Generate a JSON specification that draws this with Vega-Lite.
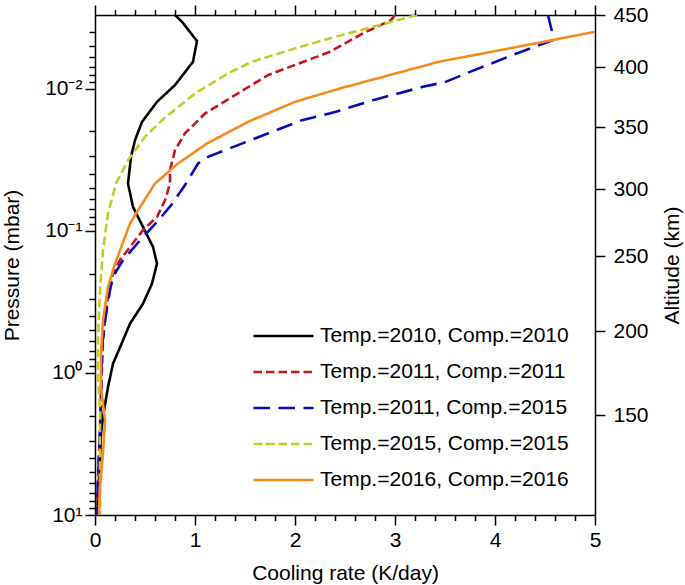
{
  "$schema": "https://vega.github.io/schema/vega-lite/v6.json",
  "width": 500,
  "height": 500,
  "autosize": {"type": "none"},
  "padding": {"left": 95, "top": 15, "right": 90, "bottom": 70},
  "background": "white",
  "config": {
    "font": "Liberation Sans",
    "view": {"stroke": null},
    "axis": {
      "grid": false,
      "domainColor": "black",
      "domainWidth": 1.5,
      "tickColor": "black",
      "tickWidth": 1.5,
      "labelColor": "black",
      "titleColor": "black",
      "labelFont": "Liberation Sans",
      "titleFont": "Liberation Sans",
      "labelFontSize": 21,
      "titleFontSize": 21,
      "titleFontWeight": "normal",
      "labelOverlap": false,
      "labelBound": false,
      "labelFlush": false
    }
  },
  "data": {
    "values": [
      {"s": "Temp.=2010, Comp.=2010", "rate": 0.80, "p": 0.003034},
      {"s": "Temp.=2010, Comp.=2010", "rate": 0.87, "p": 0.003388},
      {"s": "Temp.=2010, Comp.=2010", "rate": 1.02, "p": 0.004624},
      {"s": "Temp.=2010, Comp.=2010", "rate": 0.98, "p": 0.006471},
      {"s": "Temp.=2010, Comp.=2010", "rate": 0.80, "p": 0.009441},
      {"s": "Temp.=2010, Comp.=2010", "rate": 0.62, "p": 0.012388},
      {"s": "Temp.=2010, Comp.=2010", "rate": 0.47, "p": 0.01714},
      {"s": "Temp.=2010, Comp.=2010", "rate": 0.40, "p": 0.023067},
      {"s": "Temp.=2010, Comp.=2010", "rate": 0.36, "p": 0.0302},
      {"s": "Temp.=2010, Comp.=2010", "rate": 0.33, "p": 0.046559},
      {"s": "Temp.=2010, Comp.=2010", "rate": 0.38, "p": 0.06792},
      {"s": "Temp.=2010, Comp.=2010", "rate": 0.48, "p": 0.093972},
      {"s": "Temp.=2010, Comp.=2010", "rate": 0.58, "p": 0.13002},
      {"s": "Temp.=2010, Comp.=2010", "rate": 0.62, "p": 0.17022},
      {"s": "Temp.=2010, Comp.=2010", "rate": 0.57, "p": 0.2355},
      {"s": "Temp.=2010, Comp.=2010", "rate": 0.48, "p": 0.32584},
      {"s": "Temp.=2010, Comp.=2010", "rate": 0.35, "p": 0.45082},
      {"s": "Temp.=2010, Comp.=2010", "rate": 0.28, "p": 0.5902},
      {"s": "Temp.=2010, Comp.=2010", "rate": 0.18, "p": 0.86099},
      {"s": "Temp.=2010, Comp.=2010", "rate": 0.13, "p": 1.2589},
      {"s": "Temp.=2010, Comp.=2010", "rate": 0.09, "p": 1.8365},
      {"s": "Temp.=2010, Comp.=2010", "rate": 0.06, "p": 2.6669},
      {"s": "Temp.=2010, Comp.=2010", "rate": 0.05, "p": 4.1305},
      {"s": "Temp.=2010, Comp.=2010", "rate": 0.02, "p": 10},

      {"s": "Temp.=2011, Comp.=2011", "rate": 3.00, "p": 0.003034},
      {"s": "Temp.=2011, Comp.=2011", "rate": 2.96, "p": 0.003296},
      {"s": "Temp.=2011, Comp.=2011", "rate": 2.68, "p": 0.004083},
      {"s": "Temp.=2011, Comp.=2011", "rate": 2.35, "p": 0.005508},
      {"s": "Temp.=2011, Comp.=2011", "rate": 1.73, "p": 0.008035},
      {"s": "Temp.=2011, Comp.=2011", "rate": 1.40, "p": 0.011117},
      {"s": "Temp.=2011, Comp.=2011", "rate": 1.10, "p": 0.014962},
      {"s": "Temp.=2011, Comp.=2011", "rate": 0.90, "p": 0.020654},
      {"s": "Temp.=2011, Comp.=2011", "rate": 0.80, "p": 0.027102},
      {"s": "Temp.=2011, Comp.=2011", "rate": 0.75, "p": 0.037497},
      {"s": "Temp.=2011, Comp.=2011", "rate": 0.75, "p": 0.046559},
      {"s": "Temp.=2011, Comp.=2011", "rate": 0.70, "p": 0.060954},
      {"s": "Temp.=2011, Comp.=2011", "rate": 0.62, "p": 0.079983},
      {"s": "Temp.=2011, Comp.=2011", "rate": 0.48, "p": 0.099083},
      {"s": "Temp.=2011, Comp.=2011", "rate": 0.35, "p": 0.13002},
      {"s": "Temp.=2011, Comp.=2011", "rate": 0.25, "p": 0.16069},
      {"s": "Temp.=2011, Comp.=2011", "rate": 0.18, "p": 0.2},
      {"s": "Temp.=2011, Comp.=2011", "rate": 0.13, "p": 0.29242},
      {"s": "Temp.=2011, Comp.=2011", "rate": 0.10, "p": 0.42658},
      {"s": "Temp.=2011, Comp.=2011", "rate": 0.08, "p": 0.5902},
      {"s": "Temp.=2011, Comp.=2011", "rate": 0.06, "p": 1.4791},
      {"s": "Temp.=2011, Comp.=2011", "rate": 0.05, "p": 2.4099},
      {"s": "Temp.=2011, Comp.=2011", "rate": 0.03, "p": 5.7148},
      {"s": "Temp.=2011, Comp.=2011", "rate": 0.02, "p": 10},

      {"s": "Temp.=2011, Comp.=2015", "rate": 4.53, "p": 0.003034},
      {"s": "Temp.=2011, Comp.=2015", "rate": 4.57, "p": 0.003981},
      {"s": "Temp.=2011, Comp.=2015", "rate": 4.58, "p": 0.00455},
      {"s": "Temp.=2011, Comp.=2015", "rate": 4.22, "p": 0.005649},
      {"s": "Temp.=2011, Comp.=2015", "rate": 3.75, "p": 0.007621},
      {"s": "Temp.=2011, Comp.=2015", "rate": 3.50, "p": 0.008995},
      {"s": "Temp.=2011, Comp.=2015", "rate": 3.28, "p": 0.009705},
      {"s": "Temp.=2011, Comp.=2015", "rate": 2.78, "p": 0.01205},
      {"s": "Temp.=2011, Comp.=2015", "rate": 2.40, "p": 0.014622},
      {"s": "Temp.=2011, Comp.=2015", "rate": 2.07, "p": 0.016672},
      {"s": "Temp.=2011, Comp.=2015", "rate": 1.60, "p": 0.022439},
      {"s": "Temp.=2011, Comp.=2015", "rate": 1.13, "p": 0.0302},
      {"s": "Temp.=2011, Comp.=2015", "rate": 1.03, "p": 0.033651},
      {"s": "Temp.=2011, Comp.=2015", "rate": 0.91, "p": 0.046559},
      {"s": "Temp.=2011, Comp.=2015", "rate": 0.77, "p": 0.065013},
      {"s": "Temp.=2011, Comp.=2015", "rate": 0.62, "p": 0.086696},
      {"s": "Temp.=2011, Comp.=2015", "rate": 0.45, "p": 0.11668},
      {"s": "Temp.=2011, Comp.=2015", "rate": 0.28, "p": 0.16069},
      {"s": "Temp.=2011, Comp.=2015", "rate": 0.18, "p": 0.21135},
      {"s": "Temp.=2011, Comp.=2015", "rate": 0.15, "p": 0.26242},
      {"s": "Temp.=2011, Comp.=2015", "rate": 0.10, "p": 0.42658},
      {"s": "Temp.=2011, Comp.=2015", "rate": 0.07, "p": 0.65766},
      {"s": "Temp.=2011, Comp.=2015", "rate": 0.06, "p": 1.4791},
      {"s": "Temp.=2011, Comp.=2015", "rate": 0.05, "p": 2.541},
      {"s": "Temp.=2011, Comp.=2015", "rate": 0.03, "p": 5.7148},
      {"s": "Temp.=2011, Comp.=2015", "rate": 0.02, "p": 10},

      {"s": "Temp.=2015, Comp.=2015", "rate": 3.22, "p": 0.003034},
      {"s": "Temp.=2015, Comp.=2015", "rate": 2.78, "p": 0.003673},
      {"s": "Temp.=2015, Comp.=2015", "rate": 2.35, "p": 0.004426},
      {"s": "Temp.=2015, Comp.=2015", "rate": 2.00, "p": 0.005212},
      {"s": "Temp.=2015, Comp.=2015", "rate": 1.57, "p": 0.006471},
      {"s": "Temp.=2015, Comp.=2015", "rate": 1.33, "p": 0.007816},
      {"s": "Temp.=2015, Comp.=2015", "rate": 1.00, "p": 0.010814},
      {"s": "Temp.=2015, Comp.=2015", "rate": 0.67, "p": 0.016672},
      {"s": "Temp.=2015, Comp.=2015", "rate": 0.50, "p": 0.021827},
      {"s": "Temp.=2015, Comp.=2015", "rate": 0.33, "p": 0.031916},
      {"s": "Temp.=2015, Comp.=2015", "rate": 0.21, "p": 0.046559},
      {"s": "Temp.=2015, Comp.=2015", "rate": 0.13, "p": 0.075683},
      {"s": "Temp.=2015, Comp.=2015", "rate": 0.08, "p": 0.13709},
      {"s": "Temp.=2015, Comp.=2015", "rate": 0.05, "p": 0.26182},
      {"s": "Temp.=2015, Comp.=2015", "rate": 0.03, "p": 0.5902},
      {"s": "Temp.=2015, Comp.=2015", "rate": 0.03, "p": 1.1298},
      {"s": "Temp.=2015, Comp.=2015", "rate": 0.05, "p": 1.8365},
      {"s": "Temp.=2015, Comp.=2015", "rate": 0.05, "p": 4.1305},
      {"s": "Temp.=2015, Comp.=2015", "rate": 0.05, "p": 10},

      {"s": "Temp.=2016, Comp.=2016", "rate": 5.00, "p": 0.003981},
      {"s": "Temp.=2016, Comp.=2016", "rate": 4.58, "p": 0.00455},
      {"s": "Temp.=2016, Comp.=2016", "rate": 3.44, "p": 0.006471},
      {"s": "Temp.=2016, Comp.=2016", "rate": 2.45, "p": 0.009977},
      {"s": "Temp.=2016, Comp.=2016", "rate": 2.00, "p": 0.012388},
      {"s": "Temp.=2016, Comp.=2016", "rate": 1.53, "p": 0.01714},
      {"s": "Temp.=2016, Comp.=2016", "rate": 1.12, "p": 0.024322},
      {"s": "Temp.=2016, Comp.=2016", "rate": 0.82, "p": 0.034041},
      {"s": "Temp.=2016, Comp.=2016", "rate": 0.60, "p": 0.046559},
      {"s": "Temp.=2016, Comp.=2016", "rate": 0.43, "p": 0.071779},
      {"s": "Temp.=2016, Comp.=2016", "rate": 0.35, "p": 0.08892},
      {"s": "Temp.=2016, Comp.=2016", "rate": 0.20, "p": 0.17022},
      {"s": "Temp.=2016, Comp.=2016", "rate": 0.13, "p": 0.24889},
      {"s": "Temp.=2016, Comp.=2016", "rate": 0.08, "p": 0.42658},
      {"s": "Temp.=2016, Comp.=2016", "rate": 0.06, "p": 0.73282},
      {"s": "Temp.=2016, Comp.=2016", "rate": 0.06, "p": 1.2589},
      {"s": "Temp.=2016, Comp.=2016", "rate": 0.10, "p": 2.1627},
      {"s": "Temp.=2016, Comp.=2016", "rate": 0.08, "p": 3.6898},
      {"s": "Temp.=2016, Comp.=2016", "rate": 0.05, "p": 6.368},
      {"s": "Temp.=2016, Comp.=2016", "rate": 0.04, "p": 10}
    ]
  },
  "layer": [
    {
      "mark": {"type": "line", "strokeWidth": 2.6, "clip": true},
      "encoding": {
        "x": {
          "field": "rate", "type": "quantitative",
          "scale": {"domain": [0, 5], "nice": false, "zero": false},
          "axis": {
            "orient": "bottom",
            "values": [0,0.2,0.4,0.6,0.8,1,1.2,1.4,1.6,1.8,2,2.2,2.4,2.6,2.8,3,3.2,3.4,3.6,3.8,4,4.2,4.4,4.6,4.8,5],
            "labelExpr": "abs(datum.value-round(datum.value))<1e-6 ? format(datum.value,'d') : ''",
            "tickSize": {"condition": {"test": "abs(datum.value-round(datum.value))<1e-6", "value": 10}, "value": 5.5},
            "labelPadding": 4,
            "title": "Cooling rate (K/day)",
            "titlePadding": 12
          }
        },
        "y": {
          "field": "p", "type": "quantitative",
          "scale": {"type": "log", "domain": [0.003034, 10], "reverse": true, "nice": false},
          "axis": {
            "orient": "left",
            "values": [0.004,0.005,0.006,0.007,0.008,0.009,0.01,0.02,0.03,0.04,0.05,0.06,0.07,0.08,0.09,0.1,0.2,0.3,0.4,0.5,0.6,0.7,0.8,0.9,1,2,3,4,5,6,7,8,9,10],
            "labelExpr": "abs(log(datum.value)/LN10+2)<1e-6 ? '10⁻²' : abs(log(datum.value)/LN10+1)<1e-6 ? '10⁻¹' : abs(log(datum.value)/LN10)<1e-6 ? '10⁰' : abs(log(datum.value)/LN10-1)<1e-6 ? '10¹' : ''",
            "tickSize": {"condition": {"test": "abs(log(datum.value)/LN10-round(log(datum.value)/LN10))<1e-6", "value": 10}, "value": 6},
            "labelPadding": 3,
            "title": "Pressure (mbar)",
            "titlePadding": 22
          }
        },
        "color": {
          "field": "s", "type": "nominal",
          "scale": {
            "domain": ["Temp.=2010, Comp.=2010", "Temp.=2011, Comp.=2011", "Temp.=2011, Comp.=2015", "Temp.=2015, Comp.=2015", "Temp.=2016, Comp.=2016"],
            "range": ["#000000", "#c4161c", "#0a0ab8", "#c3cc26", "#f68b1f"]
          },
          "legend": {
            "title": null, "orient": "none", "legendX": 157, "legendY": 303,
            "symbolType": "stroke", "symbolSize": 3600, "symbolStrokeWidth": 2.6,
            "labelFontSize": 21, "labelColor": "black", "labelOffset": 5, "labelLimit": 400,
            "clipHeight": 36, "rowPadding": 0, "padding": 0
          }
        },
        "strokeDash": {
          "field": "s", "type": "nominal",
          "scale": {
            "domain": ["Temp.=2010, Comp.=2010", "Temp.=2011, Comp.=2011", "Temp.=2011, Comp.=2015", "Temp.=2015, Comp.=2015", "Temp.=2016, Comp.=2016"],
            "range": [[1, 0], [8.5, 4], [16.5, 8.5], [8.5, 4], [1, 0]]
          },
          "legend": {
            "title": null, "orient": "none", "legendX": 157, "legendY": 303,
            "symbolType": "stroke", "symbolSize": 3600, "symbolStrokeWidth": 2.6,
            "labelFontSize": 21, "labelColor": "black", "labelOffset": 5, "labelLimit": 400,
            "clipHeight": 36, "rowPadding": 0, "padding": 0
          }
        },
        "order": {"field": "p", "type": "quantitative"}
      }
    },
    {
      "mark": {"type": "point", "opacity": 0},
      "encoding": {
        "x": {
          "field": "rate", "type": "quantitative",
          "scale": {"domain": [0, 5], "nice": false, "zero": false},
          "axis": {
            "orient": "top",
            "values": [0,0.2,0.4,0.6,0.8,1,1.2,1.4,1.6,1.8,2,2.2,2.4,2.6,2.8,3,3.2,3.4,3.6,3.8,4,4.2,4.4,4.6,4.8,5],
            "labels": false,
            "title": null,
            "tickSize": {"condition": {"test": "abs(datum.value-round(datum.value))<1e-6", "value": 10}, "value": 5.5}
          }
        },
        "y": {
          "field": "p", "type": "quantitative",
          "scale": {"type": "log", "domain": [0.003034, 10], "reverse": true, "nice": false},
          "axis": {
            "orient": "right",
            "values": [0.003034, 0.00706, 0.01866, 0.0511, 0.1514, 0.5105, 1.99],
            "labelExpr": "datum.value < 0.005 ? '450' : datum.value < 0.01 ? '400' : datum.value < 0.03 ? '350' : datum.value < 0.1 ? '300' : datum.value < 0.3 ? '250' : datum.value < 1 ? '200' : '150'",
            "tickSize": 10,
            "labelPadding": 8,
            "title": "Altitude (km)",
            "titleAngle": 270,
            "titleBaseline": "top",
            "titlePadding": 13
          }
        }
      }
    }
  ],
  "resolve": {"axis": {"x": "independent", "y": "independent"}}
}
